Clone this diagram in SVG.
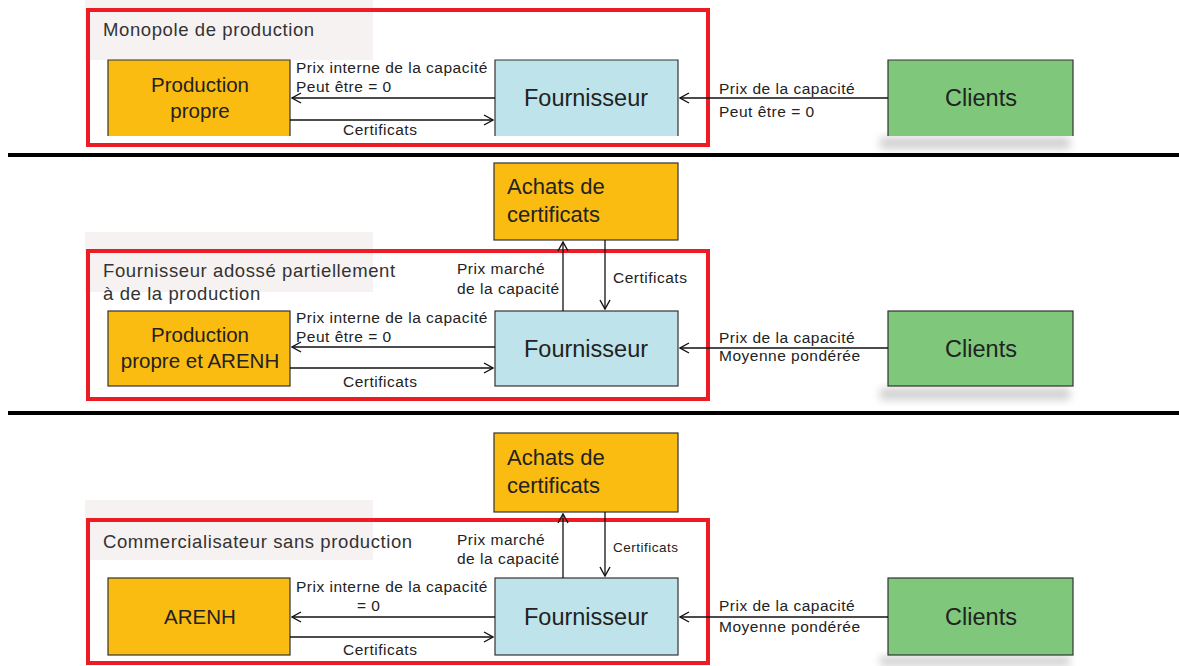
<svg xmlns="http://www.w3.org/2000/svg" width="1179" height="666" viewBox="0 0 1179 666">
<style>
text{font-family:"Liberation Sans",Arial,sans-serif;fill:#222}
.frame{fill:none;stroke:#ED1C24;stroke-width:4}
.orange{fill:#FBBC12;stroke:#333;stroke-width:1.2}
.blue{fill:#BEE3EA;stroke:#333;stroke-width:1.2}
.green{fill:#7EC77B;stroke:#333;stroke-width:1.2}
.node{font-size:20.5px;text-anchor:middle}
.big{font-size:23.5px;text-anchor:middle}
.ach{font-size:22px;text-anchor:start}
.lbl{font-size:15.5px;letter-spacing:0.5px}
.small{font-size:13.5px;letter-spacing:0.5px}
.title{font-size:18.5px;letter-spacing:0.6px;fill:#333}
.sep{stroke:#000;stroke-width:4}
.con{stroke:#111;stroke-width:1.3;fill:none;marker-end:url(#chev)}
.shadow{fill:#000;opacity:0.18}
.haze{fill:#f3ecec;opacity:0.7}
</style>
<defs>
<marker id="chev" viewBox="0 0 12 12" refX="11" refY="6" markerWidth="12" markerHeight="12" markerUnits="userSpaceOnUse" orient="auto">
<path d="M2 1 L11 6 L2 11" fill="none" stroke="#111" stroke-width="1.4"/>
</marker>
<filter id="blur" x="-20%" y="-50%" width="140%" height="200%"><feGaussianBlur stdDeviation="4"/></filter>
</defs>

<!-- separators -->
<line class="sep" x1="8" y1="155" x2="1179" y2="155"/>
<line class="sep" x1="8" y1="413" x2="1179" y2="413"/>

<!-- Panel 1 -->
<g id="panel1">
<rect class="haze" x="85" y="0" width="288" height="60"/>
<rect class="frame" x="88" y="10" width="620" height="135"/>
<text class="title" x="103" y="36">Monopole de production</text>
</g>
<g id="prod1"><path class="orange" d="M108 136 V60 H290 V136"/><text class="node" x="200" y="92">Production</text><text class="node" x="200" y="118">propre</text></g>
<g id="four1"><path class="blue" d="M495 136 V60 H678 V136"/><text class="big" x="586" y="106">Fournisseur</text></g>
<g id="cli1"><rect class="shadow" x="880" y="137" width="190" height="12" filter="url(#blur)"/><path class="green" d="M888 136 V60 H1073 V136"/><text class="big" x="981" y="106">Clients</text></g>

<!-- Panel 2 -->
<g id="panel2">
<rect class="haze" x="85" y="232" width="288" height="60"/>
<rect class="frame" x="88" y="251" width="620" height="148"/>
<text class="title" x="103" y="277">Fournisseur adossé partiellement</text>
<text class="title" x="103" y="300">à de la production</text>
</g>
<g id="achat2"><rect class="orange" x="494" y="163" width="184" height="77"/><text class="ach" x="507" y="194">Achats de</text><text class="ach" x="507" y="222">certificats</text></g>
<g id="prod2"><rect class="orange" x="108" y="311" width="182" height="75"/><text class="node" x="200" y="342">Production</text><text class="node" x="200" y="368">propre et ARENH</text></g>
<g id="four2"><rect class="blue" x="495" y="311" width="183" height="75"/><text class="big" x="586" y="357">Fournisseur</text></g>
<g id="cli2"><rect class="shadow" x="880" y="388" width="190" height="12" filter="url(#blur)"/><rect class="green" x="888" y="311" width="185" height="75"/><text class="big" x="981" y="357">Clients</text></g>

<!-- Panel 3 -->
<g id="panel3">
<rect class="haze" x="85" y="500" width="288" height="60"/>
<rect class="frame" x="88" y="520" width="620" height="143"/>
<text class="title" x="103" y="548">Commercialisateur sans production</text>
</g>
<g id="achat3"><rect class="orange" x="494" y="433" width="184" height="79"/><text class="ach" x="507" y="465">Achats de</text><text class="ach" x="507" y="493">certificats</text></g>
<g id="arenh3"><rect class="orange" x="108" y="578" width="182" height="77"/><text class="node" x="200" y="624">ARENH</text></g>
<g id="four3"><rect class="blue" x="495" y="578" width="183" height="77"/><text class="big" x="586" y="625">Fournisseur</text></g>
<g id="cli3"><rect class="shadow" x="880" y="656" width="190" height="10" filter="url(#blur)"/><rect class="green" x="888" y="578" width="185" height="77"/><text class="big" x="981" y="625">Clients</text></g>

<!-- connectors -->
<g id="connectors">
<line class="con" x1="495" y1="98" x2="292" y2="98"/>
<line class="con" x1="290" y1="120" x2="493" y2="120"/>
<line class="con" x1="888" y1="98" x2="680" y2="98"/>

<line class="con" x1="563" y1="311" x2="563" y2="242"/>
<line class="con" x1="605" y1="240" x2="605" y2="309"/>
<line class="con" x1="495" y1="347" x2="292" y2="347"/>
<line class="con" x1="290" y1="368" x2="493" y2="368"/>
<line class="con" x1="888" y1="348" x2="680" y2="348"/>

<line class="con" x1="563" y1="578" x2="563" y2="514"/>
<line class="con" x1="605" y1="512" x2="605" y2="576"/>
<line class="con" x1="495" y1="617" x2="292" y2="617"/>
<line class="con" x1="290" y1="637" x2="493" y2="637"/>
<line class="con" x1="888" y1="617" x2="680" y2="617"/>
</g>

<!-- labels -->
<g id="labels">
<text class="lbl" x="296" y="73">Prix interne de la capacité</text>
<text class="lbl" x="296" y="92">Peut être = 0</text>
<text class="lbl" x="343" y="135">Certificats</text>
<text class="lbl" x="719" y="94">Prix de la capacité</text>
<text class="lbl" x="719" y="117">Peut être = 0</text>

<text class="lbl" x="457" y="274">Prix marché</text>
<text class="lbl" x="457" y="294">de la capacité</text>
<text class="lbl" x="613" y="283">Certificats</text>
<text class="lbl" x="296" y="323">Prix interne de la capacité</text>
<text class="lbl" x="296" y="342">Peut être = 0</text>
<text class="lbl" x="343" y="387">Certificats</text>
<text class="lbl" x="719" y="343">Prix de la capacité</text>
<text class="lbl" x="719" y="361">Moyenne pondérée</text>

<text class="lbl" x="457" y="545">Prix marché</text>
<text class="lbl" x="457" y="564">de la capacité</text>
<text class="small" x="613" y="552">Certificats</text>
<text class="lbl" x="296" y="592">Prix interne de la capacité</text>
<text class="lbl" x="357" y="611">= 0</text>
<text class="lbl" x="343" y="655">Certificats</text>
<text class="lbl" x="719" y="611">Prix de la capacité</text>
<text class="lbl" x="719" y="632">Moyenne pondérée</text>
</g>
</svg>
